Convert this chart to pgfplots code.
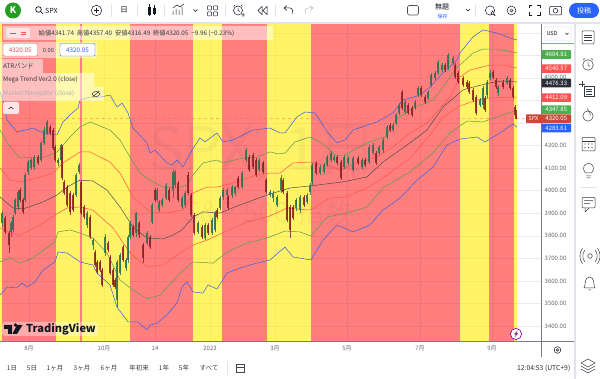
\documentclass[border=0pt]{standalone}
\usepackage{pgfplots}
\usepackage{pgfplotstable}
\usepackage{fontspec}
\pgfplotsset{compat=1.18}
\setmainfont{Noto Sans CJK JP}
\definecolor{rreg}{RGB}{255,0,0}
\definecolor{yreg}{RGB}{255,235,0}
\definecolor{tvblue}{RGB}{41,98,255}
\definecolor{lblue}{RGB}{55,95,225}
\definecolor{lgreen}{RGB}{85,155,80}
\definecolor{lred}{RGB}{255,85,70}
\definecolor{cup}{RGB}{45,115,85}
\definecolor{cdn}{RGB}{140,35,40}
\definecolor{ink}{RGB}{19,23,34}
\definecolor{axg}{RGB}{120,123,134}
\definecolor{gridc}{RGB}{232,234,240}
\definecolor{sep}{RGB}{224,227,235}
\definecolor{tgreen}{RGB}{76,175,80}
\definecolor{tred}{RGB}{255,82,82}
\definecolor{tspx}{RGB}{205,70,55}
\newcommand{\fs}[1]{\fontsize{#1}{#1}\selectfont}

\pgfplotstableread{
x p
0 4438
3 4402
7 4314
17 4260
33 4278
43 4256
57 4247
63 4305
70 4336
78 4367
80 4402
90 4415
100 4415
110 4424
117 4371
122 4389
128 4345
133 4278
147 4212
150 4167
155 4180
167 4123
172 4114
177 4136
183 4105
192 4180
200 4234
205 4216
217 4256
223 4216
233 4225
253 4269
270 4278
280 4256
285 4256
297 4327
305 4349
315 4345
328 4256
337 4212
345 4225
353 4269
377 4305
393 4345
403 4402
420 4424
430 4460
443 4522
457 4580
460 4611
473 4682
483 4713
497 4699
510 4677
517 4668
}\ubl
\pgfplotstableread{
x p
0 4269
10 4194
20 4145
33 4149
45 4149
57 4172
70 4238
80 4282
90 4305
100 4287
110 4269
120 4225
130 4149
140 4078
150 4047
163 4016
177 4012
187 4025
193 4070
203 4123
217 4136
223 4123
243 4145
257 4149
270 4172
278 4163
285 4167
295 4216
310 4238
322 4212
335 4158
345 4158
367 4212
385 4238
398 4322
413 4367
433 4402
443 4460
457 4548
460 4557
473 4611
483 4628
497 4628
517 4611
}\ugr
\pgfplotstableread{
x p
0 4101
10 4047
20 4039
37 4056
53 4078
63 4123
80 4172
90 4172
110 4127
120 4078
133 3972
150 3906
167 3901
183 3914
193 3990
207 4016
217 4016
233 4034
257 4070
270 4078
280 4078
293 4123
310 4127
327 4114
340 4092
357 4123
377 4149
393 4194
410 4256
427 4300
450 4415
460 4504
470 4535
490 4557
503 4557
517 4544
}\ure
\pgfplotstableread{
x p
0 3972
13 3923
23 3919
43 3950
57 3981
67 4016
80 4047
93 4043
107 4003
120 3928
133 3839
147 3790
163 3786
173 3803
182 3826
193 3883
203 3906
220 3901
240 3937
270 3985
290 4012
310 4021
343 4039
367 4061
383 4127
410 4212
427 4269
443 4371
463 4447
477 4464
490 4478
503 4487
517 4482
}\mid
\pgfplotstableread{
x p
0 3835
10 3812
20 3803
40 3848
55 3892
67 3923
80 3928
93 3914
113 3835
130 3724
147 3662
163 3670
180 3724
193 3759
207 3781
222 3812
247 3861
270 3888
287 3923
310 3914
330 3968
345 3972
367 4012
383 4056
410 4145
430 4247
443 4327
460 4376
477 4402
490 4411
513 4415
517 4415
}\lre
\pgfplotstableread{
x p
0 3684
10 3702
20 3679
33 3702
55 3773
58 3817
70 3826
80 3812
93 3790
107 3724
120 3604
133 3560
147 3520
160 3537
180 3635
193 3684
213 3679
227 3728
247 3768
267 3790
285 3821
300 3817
311 3799
327 3883
347 3901
367 3928
383 4012
410 4083
433 4167
450 4256
467 4309
483 4305
503 4336
517 4358
}\lgr
\pgfplotstableread{
x p
0 3537
7 3573
17 3569
22 3591
27 3573
35 3595
43 3648
55 3684
58 3728
67 3724
80 3684
93 3670
97 3635
110 3582
117 3484
128 3418
138 3418
147 3382
150 3404
157 3413
167 3449
177 3502
182 3573
187 3595
193 3551
203 3546
208 3582
217 3564
227 3635
240 3657
257 3679
270 3693
285 3750
293 3706
311 3693
323 3781
337 3848
353 3817
370 3848
383 3914
400 3968
417 4047
433 4105
447 4203
460 4229
477 4238
485 4216
500 4256
513 4296
517 4282
}\lbl
% candles: x, wick low, body low, body high, wick high
\pgfplotstableread{
x l b t h
2 3839 3857 3901 3910
11 3795 3817 3857 3866
13 3817 3826 3883 3892
15 3892 3901 3959 3968
18 3914 3928 3994 4003
25 3950 3959 4070 4078
28 4070 4083 4127 4136
31 4092 4101 4136 4145
34 4092 4105 4149 4158
41 4127 4136 4212 4221
44 4203 4212 4269 4282
47 4247 4256 4305 4314
58 4110 4123 4136 4145
61 4127 4136 4203 4207
76 3972 3981 4070 4078
79 4074 4083 4114 4123
87 3835 3848 3901 3910
93 3737 3759 3781 3790
105 3710 3724 3795 3810
117 3480 3515 3684 3693
120 3625 3635 3715 3725
126 3645 3657 3693 3700
128 3680 3693 3795 3803
130 3786 3795 3857 3866
136 3795 3812 3901 3906
147 3759 3768 3812 3821
152 3852 3861 3937 3945
157 3950 3959 4003 4012
159 3906 3914 3950 3959
162 3928 3937 3959 3968
166 3959 3968 4025 4034
173 3968 4003 4083 4092
175 4012 4025 4083 4092
182 3919 3928 3968 3977
185 3928 3937 3990 3999
198 3808 3817 3857 3866
205 3781 3790 3848 3857
212 3803 3812 3870 3879
215 3817 3826 3901 3910
220 3914 3923 3968 3977
223 3959 3972 4003 4012
227 3972 3981 4003 4012
232 3968 3981 4016 4025
235 3977 3990 4016 4021
242 4007 4016 4078 4087
246 4127 4136 4180 4190
259 4083 4092 4136 4145
270 3972 3981 3994 4003
273 3950 3968 3990 3999
277 3928 3937 3972 3981
281 3990 4003 4056 4070
296 3910 3923 3959 3968
300 3901 3914 3972 3981
307 3941 3950 3981 3990
310 3981 3994 4025 4034
312 4025 4039 4114 4123
320 4070 4078 4105 4114
324 4074 4083 4114 4123
327 4105 4114 4149 4158
331 4127 4136 4167 4176
334 4127 4136 4149 4158
344 4096 4105 4149 4158
348 4114 4123 4145 4154
353 4083 4092 4145 4154
362 4096 4105 4136 4145
369 4118 4127 4194 4203
373 4158 4167 4203 4212
379 4158 4167 4194 4203
383 4167 4180 4225 4234
387 4229 4238 4282 4291
393 4260 4269 4291 4300
396 4291 4300 4336 4345
399 4336 4345 4380 4389
405 4340 4349 4393 4402
415 4358 4367 4393 4402
418 4415 4424 4455 4464
428 4402 4411 4438 4447
431 4460 4469 4513 4522
435 4491 4500 4522 4531
438 4513 4522 4571 4580
442 4526 4535 4557 4566
448 4535 4544 4602 4611
453 4557 4566 4588 4597
480 4371 4380 4402 4411
483 4362 4380 4455 4464
487 4411 4424 4482 4491
490 4491 4500 4522 4535
498 4420 4433 4460 4469
507 4469 4478 4500 4509
}\cup
\pgfplotstableread{
x l b t h
5 3808 3817 3879 3888
9 3724 3759 3812 3821
20 3950 3959 4003 4012
23 3897 3906 3959 3968
38 4114 4123 4149 4158
50 4247 4256 4282 4291
53 4180 4189 4269 4278
55 4127 4136 4194 4203
62 4047 4056 4194 4203
64 3981 3990 4039 4047
67 3928 3937 4016 4025
70 3892 3906 3990 3999
73 3906 3914 3981 3990
81 3892 3901 4039 4047
84 3874 3883 3928 3937
90 3786 3795 3883 3892
95 3662 3670 3728 3737
97 3630 3639 3684 3693
100 3639 3648 3684 3693
102 3573 3582 3648 3657
108 3728 3737 3768 3777
110 3626 3635 3706 3715
113 3573 3582 3648 3657
115 3564 3573 3604 3613
123 3684 3693 3750 3759
133 3795 3803 3839 3848
139 3790 3803 3857 3866
143 3680 3702 3759 3768
150 3741 3750 3795 3803
155 3950 3959 4003 4012
169 3950 3959 4003 4012
178 3950 3959 4034 4043
188 3981 3990 4070 4083
191 3883 3892 3981 3990
194 3803 3812 3892 3901
202 3786 3795 3839 3848
208 3803 3812 3848 3857
217 3874 3883 3914 3923
228 3914 3923 3972 3981
238 4007 4016 4056 4065
249 4083 4092 4149 4158
253 4096 4105 4158 4167
256 4061 4070 4136 4145
263 4074 4083 4123 4132
266 3985 3994 4047 4056
283 3985 3994 4047 4056
287 3861 3870 3990 3999
290 3790 3826 3928 3937
293 3870 3879 3928 3937
304 3928 3937 3972 3981
316 4070 4078 4123 4132
337 4114 4123 4149 4158
341 4047 4056 4127 4136
358 4114 4123 4145 4154
365 4105 4114 4136 4145
376 4114 4123 4167 4176
390 4260 4269 4291 4300
402 4358 4367 4438 4447
408 4336 4345 4380 4389
412 4327 4336 4367 4376
421 4415 4424 4455 4464
425 4384 4393 4415 4424
445 4526 4535 4557 4566
455 4495 4504 4557 4566
458 4473 4482 4522 4531
463 4460 4469 4500 4509
467 4451 4460 4482 4491
469 4429 4438 4478 4487
473 4393 4402 4447 4456
476 4336 4345 4415 4424
485 4349 4358 4411 4420
493 4495 4504 4526 4535
496 4451 4460 4491 4500
503 4451 4460 4482 4491
510 4447 4455 4491 4500
513 4406 4415 4455 4464
515 4327 4336 4371 4380
516 4316 4320 4336 4357
}\cdn

\pgfplotsset{
  rr/.style={draw=none,fill=rreg,fill opacity=0.5,forget plot},
  yy/.style={draw=none,fill=yreg,fill opacity=0.6,forget plot},
  band/.style={line width=0.5pt,no markers,forget plot},
  wick/.style={forget plot,draw=none,no markers,error bars/.cd,y dir=plus,y explicit,error mark=none,error bar style={line width=0.4pt,draw=#1,opacity=0.85}},
  body/.style={forget plot,draw=none,no markers,error bars/.cd,y dir=plus,y explicit,error mark=none,error bar style={line width=1.3pt,draw=#1,opacity=0.88}},
}

\begin{document}
\begin{tikzpicture}
\path[use as bounding box,fill=white] (0,0) rectangle (600pt,379pt);
\begin{axis}[
  at={(0pt,38pt)},anchor=south west,scale only axis,
  width=541pt,height=317pt,
  xmin=0,xmax=541,ymin=3333.5,ymax=4739.2,
  axis y line*=right,axis x line*=bottom,
  axis line style={draw=axg,line width=0.5pt},
  major tick length=0pt,
  grid=major,grid style={draw=gridc,line width=0.4pt},
  xtick={29,104,155,210,275,347,420,492},
  xticklabels={8月,10月,14,2023,3月,5月,7月,9月},
  xticklabel style={font=\fs{6},text=axg!85!black,inner sep=0pt,yshift=-5pt},
  ytick={3400,3500,3600,3700,3800,3900,4000,4100,4200,4300,4400,4500,4600,4700},
  yticklabels={},
  clip=true,
]
\addplot[yy] coordinates {(0,3333.5)(0,4739.2)(2,4739.2)(2,3333.5)} --cycle;
\addplot[rr] coordinates {(2,3333.5)(2,4739.2)(56,4739.2)(56,3333.5)} --cycle;
\addplot[yy] coordinates {(56,3333.5)(56,4739.2)(80,4739.2)(80,3333.5)} --cycle;
\addplot[rr] coordinates {(80,3333.5)(80,4739.2)(82,4739.2)(82,3333.5)} --cycle;
\addplot[yy] coordinates {(82,3333.5)(82,4739.2)(130,4739.2)(130,3333.5)} --cycle;
\addplot[rr] coordinates {(130,3333.5)(130,4739.2)(193,4739.2)(193,3333.5)} --cycle;
\addplot[yy] coordinates {(193,3333.5)(193,4739.2)(222,4739.2)(222,3333.5)} --cycle;
\addplot[rr] coordinates {(222,3333.5)(222,4739.2)(267,4739.2)(267,3333.5)} --cycle;
\addplot[yy] coordinates {(267,3333.5)(267,4739.2)(311,4739.2)(311,3333.5)} --cycle;
\addplot[rr] coordinates {(311,3333.5)(311,4739.2)(460,4739.2)(460,3333.5)} --cycle;
\addplot[yy] coordinates {(460,3333.5)(460,4739.2)(489,4739.2)(489,3333.5)} --cycle;
\addplot[rr] coordinates {(489,3333.5)(489,4739.2)(514,4739.2)(514,3333.5)} --cycle;
\addplot[yy] coordinates {(514,3333.5)(514,4739.2)(517,4739.2)(517,3333.5)} --cycle;
% last-price line
\addplot[forget plot,no markers,dashed,line width=0.3pt,draw=lred,opacity=0.4] coordinates {(0,4320.05)(541,4320.05)};
% bands
\addplot[band,draw=lblue] table[x=x,y=p] {\ubl};
\addplot[band,draw=lgreen] table[x=x,y=p] {\ugr};
\addplot[band,draw=lred] table[x=x,y=p] {\ure};
\addplot[band,draw=black!70] table[x=x,y=p] {\mid};
\addplot[band,draw=lred] table[x=x,y=p] {\lre};
\addplot[band,draw=lgreen] table[x=x,y=p] {\lgr};
\addplot[band,draw=lblue] table[x=x,y=p] {\lbl};
% candles
\addplot[wick=cup] table[x=x,y=l,y error plus expr=\thisrow{h}-\thisrow{l}] {\cup};
\addplot[wick=cdn] table[x=x,y=l,y error plus expr=\thisrow{h}-\thisrow{l}] {\cdn};
\addplot[body=cup] table[x=x,y=b,y error plus expr=\thisrow{t}-\thisrow{b}] {\cup};
\addplot[body=cdn] table[x=x,y=b,y error plus expr=\thisrow{t}-\thisrow{b}] {\cdn};
\end{axis}

\begin{scope}[x=1pt,y=-1pt,shift={(0pt,379pt)}]
% watermark
\node[opacity=0.04,text=ink,font=\fs{60}] at (263,153) {SPX, 1日};
\node[opacity=0.04,text=ink,font=\fs{28}] at (268,212) {S\&P 500 指数};

% chrome frame
\fill[white] (0,0) rectangle (600,23.5);
\fill[white] (541.3,23.5) rectangle (600,340.5);
\fill[sep] (0,22.5) rectangle (600,24);
\fill[sep] (574,23) rectangle (576,379);
\fill[white] (576,24) rectangle (600,379);
\draw[tvblue!60,line width=0.5pt] (541.5,43) -- (574,43);
\draw[axg,line width=0.5pt] (541,24) -- (541,357);
\draw[axg,line width=0.5pt] (0,341) -- (574,341);

% y tick labels
\foreach \p/\t in {3400/326,3500/303.5,3600/280.9,3700/258.4,3800/235.8,3900/213.3,4000/190.7,4100/168.1,4200/145.6}
  \node[font=\fs{6},text=axg!85!black,anchor=west,inner sep=0pt] at (544.5,\t) {\p.00};
\node[font=\fs{6},text=axg!85!black,anchor=west,inner sep=0pt] at (544.5,77) {4500.00};

% price tags
\foreach \y/\c/\t in {54.5/tgreen/4604.81,68.7/tred/4540.57,83/ink!90/4476.33,97.7/tred/4412.09,109.7/tgreen/4347.85,128/tvblue/4283.61}{
  \fill[\c,rounded corners=0.6pt] (541.5,\y-4.3) rectangle (571,\y+4.3);
  \node[font=\fs{6},text=white,inner sep=0pt] at (556.3,\y) {\t};
}
\fill[tspx,rounded corners=0.6pt] (526,114.3) rectangle (571,123);
\node[font=\fs{5.5},text=white,inner sep=0pt] at (533.5,118.6) {SPX};
\node[font=\fs{6},text=white,inner sep=0pt] at (556.3,118.6) {4320.05};
% USD
\draw[sep,fill=white,rounded corners=2pt,line width=0.5pt] (544,27) rectangle (571,41);
\node[font=\fs{5.5},text=ink,inner sep=0pt] at (552,33.5) {USD};
\draw[ink,line width=0.4pt] (565.5,33) -- (567,34.5) -- (568.5,33);

% legend overlays
\fill[white,opacity=0.5,rounded corners=1pt] (3,26) rectangle (273,40);
\fill[white,opacity=0.5,rounded corners=1pt] (0,42) rectangle (97,58);
\fill[white,opacity=0.5] (0,59) rectangle (43,73);
\fill[white,opacity=0.5] (0,73) rectangle (94,87);
\fill[white,opacity=0.5] (0,87) rectangle (104,101);
\fill[white,opacity=0.55,rounded corners=2pt] (6,28) rectangle (30,38);
\draw[axg,line width=0.8pt] (10,33) -- (15.5,33);
\draw[tred,line width=0.6pt] (20.5,32) -- (25.5,32) (20.5,34) -- (25.5,34);
\node[anchor=west,font=\fs{6.3},text=ink!85,inner sep=0pt] at (38.5,33) {始値4341.74 \ 高値4357.40 \ 安値4316.49 \ 終値4320.05 \ −9.96 (−0.23\%)};
\draw[tred,fill=white,rounded corners=1pt,line width=0.4pt] (3,43.5) rectangle (37.5,56);
\node[font=\fs{6.3},text=tred!90!black,inner sep=0pt] at (20.2,50) {4320.05};
\node[font=\fs{5.8},text=ink!85,inner sep=0pt] at (48.5,50) {0.00};
\draw[tvblue,fill=white,rounded corners=1pt,line width=0.4pt] (60,43.5) rectangle (95,56);
\node[font=\fs{6.3},text=tvblue,inner sep=0pt] at (77.5,50) {4320.05};
\node[anchor=west,font=\fs{6.3},text=ink!85,inner sep=0pt] at (3,66) {ATRバンド};
\node[anchor=west,font=\fs{6.3},text=ink!85,inner sep=0pt] at (3,80) {Mega Trend Ver2.0 (close)};
\node[anchor=west,font=\fs{6.3},text=ink!35,inner sep=0pt] at (3,94) {Market Navigator (close)};
\draw[ink,line width=0.4pt] (92,94) .. controls (94,90.5) and (98,90.5) .. (100,94) .. controls (98,97.5) and (94,97.5) .. (92,94);
\draw[ink,line width=0.4pt] (92.5,97) -- (99.5,91);
\fill[white,opacity=0.8,rounded corners=1.5pt] (3,102) rectangle (19,114);
\draw[ink,line width=0.5pt] (8.5,109) -- (11,107) -- (13.5,109);

% TradingView logo
\fill[white,opacity=0.35,rounded corners=3pt] (2,322) rectangle (98,336);
\node[anchor=west,font=\fs{11},text=ink,inner sep=0pt] at (26,329) {\textbf{TradingView}};
\fill[ink] (4,325) -- (12,325) -- (12,334) -- (8,334) -- (8,329) -- (4,329) -- cycle;
\fill[ink] (15.5,325) circle (1.9);
\fill[ink] (17,334) -- (12.5,334) -- (17,325) -- (22.5,325) -- cycle;

% lightning
\draw[violet,fill=white,line width=0.6pt] (516,334) circle (5.6);
\fill[violet] (517.5,330.5) -- (514,334.5) -- (516,334.5) -- (514.5,337.5) -- (518,333.5) -- (516,333.5) -- cycle;
% settings wheel at the scale corner
\draw[ink,line width=0.5pt] (557.5,350) circle (3.3);
\draw[ink,line width=0.5pt] (557.5,350) circle (1.2);

% bottom row
\foreach \x/\t in {12/1日,32/5日,55/1ヶ月,82/3ヶ月,109/6ヶ月,139/年初来,164/1年,184/5年,209/すべて}
  \node[font=\fs{6.5},text=ink!85,inner sep=0pt] at (\x,368) {\t};
\draw[sep,line width=0.6pt] (227,361) -- (227,375);
\draw[ink!80,line width=0.5pt] (236,364.5) rectangle (244.5,372);
\draw[ink!80,line width=0.5pt] (236,367) -- (244.5,367);
\node[anchor=east,font=\fs{6.8},text=ink!90,inner sep=0pt] at (570.5,368) {12:04:53 (UTC+9)};

% top toolbar
\fill[green!55!black!85!white] (13,10.5) circle (8);
\node[font=\fs{9}\bfseries,text=white,inner sep=0pt] at (13,10.5) {K};
\draw[ink,line width=0.7pt] (38.5,9.5) circle (2.8);
\draw[ink,line width=0.7pt] (40.5,11.5) -- (43,14);
\node[anchor=west,font=\fs{7},text=ink,inner sep=0pt] at (45,10.5) {SPX};
\draw[ink,line width=0.5pt] (96.5,10.5) circle (5.2);
\draw[ink,line width=0.5pt] (93.7,10.5) -- (99.3,10.5) (96.5,7.7) -- (96.5,13.3);
\node[font=\fs{7.5},text=ink,inner sep=0pt] at (124,10) {日};
\draw[ink,line width=0.5pt] (148,7) rectangle (150.5,14) (149.2,4.5) -- (149.2,16.5) (153,8) rectangle (155.5,13) (154.2,5.5) -- (154.2,15.5);
\draw[ink,line width=0.5pt] (173,15) -- (173,11) (176,15) -- (176,9) (179,15) -- (179,10) (182,15) -- (182,7) (173,8) -- (177,5) -- (180,7) -- (184,4);
\draw[ink,line width=0.5pt] (193.5,9.5) -- (195.5,11.5) -- (197.5,9.5);
\draw[ink,line width=0.5pt,rounded corners=0.6pt] (207.5,6) rectangle (211.5,10) (213.5,6) rectangle (217.5,10) (207.5,12) rectangle (211.5,16) (213.5,12) rectangle (217.5,16);
\draw[ink,line width=0.5pt] (238,10.5) circle (4.5);
\draw[ink,line width=0.5pt] (238,8) -- (238,10.5) -- (240,11.5) (241,15) -- (245,15) (243,13) -- (243,17) (233.5,6.5) -- (235,5) (241,5) -- (242.5,6.5);
\draw[ink,line width=0.5pt] (262,6.5) -- (258,10.5) -- (262,14.5) -- cycle (267,6.5) -- (263,10.5) -- (267,14.5) -- cycle;
\draw[ink,line width=0.5pt] (284,8) -- (287,5.5) (284,8) -- (287,10.5) (284,8) -- (290,8) .. controls (293,8) and (293,12) .. (292,14);
\draw[ink!30,line width=0.5pt] (313,8) -- (310,5.5) (313,8) -- (310,10.5) (313,8) -- (308,8) .. controls (305,8) and (305,12) .. (306,14);
\draw[ink!75,line width=0.6pt,rounded corners=1.5pt] (407.5,5.5) rectangle (418.5,15);
\node[font=\fs{7},text=ink,inner sep=0pt] at (442,7) {無題};
\node[font=\fs{5},text=tvblue,inner sep=0pt] at (442.5,16.5) {保存};
\draw[ink,line width=0.5pt] (466,9) -- (468,11) -- (470,9);
\draw[ink,line width=0.5pt] (490,10.5) circle (4.6);
\draw[ink,fill=white,line width=0.5pt] (492.5,11) -- (495,15.5) -- (491,13.5) -- cycle;
\draw[ink,line width=0.5pt] (511.5,10.5) circle (4.4);
\draw[ink,line width=0.5pt] (511.5,10.5) circle (1.6);
\draw[ink,line width=0.6pt] (529,8) -- (529,5.5) -- (532,5.5) (537,5.5) -- (540,5.5) -- (540,8) (540,12.5) -- (540,15) -- (537,15) (532,15) -- (529,15) -- (529,12.5);
\draw[ink,line width=0.5pt,rounded corners=1pt] (549.5,6.5) rectangle (561.5,15);
\draw[ink,line width=0.5pt] (555.5,10.7) circle (2.3);
\fill[tvblue] (576.5,10.5) circle (7.5) (591.5,10.5) circle (7.5);
\fill[tvblue] (576.5,3) rectangle (591.5,18);
\node[font=\fs{7},text=white,inner sep=0pt] at (584,10.5) {投稿};
\foreach \x in {111,137,164,225,275,475}
  \draw[sep,line width=0.6pt] (\x,4) -- (\x,17);

% side toolbar
\draw[ink!85,line width=0.5pt,rounded corners=1pt] (582,31) rectangle (594,44);
\draw[ink!85,line width=0.4pt] (584,35) -- (592,35) (584,37.5) -- (592,37.5) (584,40) -- (592,40);
\draw[ink!85,line width=0.5pt] (588,65) circle (5.3) (588,62) -- (588,65) -- (590,66.5) (583,60) -- (585,58.5) (593,60) -- (591,58.5);
\draw[ink!85,line width=0.5pt] (584,86) -- (594,86) -- (594,96) -- (584,96) -- cycle (586,89) -- (592,89) (586,91.5) -- (592,91.5) (586,94) -- (592,94) (579,84) -- (585,84) (582,81) -- (582,87);
\draw[ink!85,line width=0.5pt] (588,116) circle (5.2);
\draw[ink!85,line width=0.5pt] (588,108) .. controls (586,111) and (592,112) .. (590,116);
\draw[ink!85,line width=0.5pt,rounded corners=1pt] (582,137.5) rectangle (595,151);
\draw[ink!85,line width=0.4pt] (582,141) -- (595,141);
\foreach \a in {585,588.5,592} \foreach \b in {144,147.5} \fill[ink!85] (\a,\b) circle (0.7);
\draw[ink!85,line width=0.5pt] (585.5,173) .. controls (581,167) and (585,163.5) .. (588.5,163.5) .. controls (592,163.5) and (596,167) .. (591.5,173) -- cycle (586,176) -- (591,176) (586.5,178) -- (590.5,178);
\draw[sep,line width=0.5pt] (581,187) -- (597,187);
\draw[ink!85,line width=0.5pt,rounded corners=1pt] (582,197.5) rectangle (595,208) (584,200.5) -- (593,200.5) (584,203.5) -- (590,203.5);
\draw[ink!85,line width=0.5pt] (585,208) -- (585,212) -- (589,208);
\draw[ink!85,line width=0.5pt] (590,256) circle (2.3);
\draw[ink!85,line width=0.5pt] (585,250) .. controls (582,254) and (582,258) .. (585,262) (595,250) .. controls (598,254) and (598,258) .. (595,262) (582.5,248) .. controls (579,254) and (579,258) .. (582.5,264) (597.5,248) .. controls (601,254) and (601,258) .. (597.5,264);
\draw[ink!85,line width=0.5pt] (584,288) .. controls (586,285) and (584,277) .. (589.5,277) .. controls (595,277) and (593,285) .. (595,288) -- cycle (588,290) -- (591,290);
\draw[ink!85,line width=0.5pt] (588,359) -- (595,363) -- (588,367) -- (581,363) -- cycle (581,366) -- (588,370) -- (595,366) (581,369) -- (588,373) -- (595,369);
\end{scope}
\end{tikzpicture}
\end{document}
